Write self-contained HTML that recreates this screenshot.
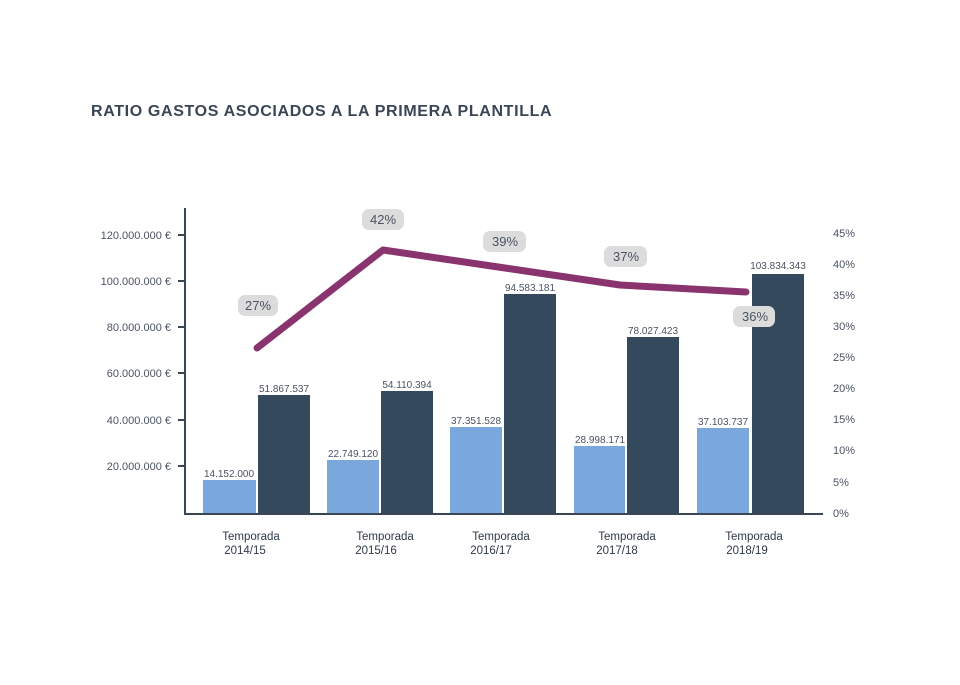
<!DOCTYPE html>
<html><head><meta charset="utf-8"><style>
body{margin:0;background:#fff;}
svg text{font-family:"Liberation Sans",sans-serif;}
</style></head><body>
<svg width="960" height="680" viewBox="0 0 960 680" xmlns="http://www.w3.org/2000/svg">
<text x="91" y="116" font-size="16" font-weight="bold" fill="#3a4656" letter-spacing="0.65">RATIO GASTOS ASOCIADOS A LA PRIMERA PLANTILLA</text>
<g font-size="11" fill="#4a5362" text-anchor="end">
<text x="171" y="239">120.000.000 €</text>
<text x="171" y="285">100.000.000 €</text>
<text x="171" y="331">80.000.000 €</text>
<text x="171" y="377">60.000.000 €</text>
<text x="171" y="424">40.000.000 €</text>
<text x="171" y="470">20.000.000 €</text>
</g>
<g stroke="#3a4656" stroke-width="2">
<line x1="178" y1="235" x2="185" y2="235"/><line x1="178" y1="281" x2="185" y2="281"/>
<line x1="178" y1="327" x2="185" y2="327"/><line x1="178" y1="373" x2="185" y2="373"/>
<line x1="178" y1="420" x2="185" y2="420"/><line x1="178" y1="466" x2="185" y2="466"/>
</g>
<g font-size="11" fill="#4a5362">
<text x="833" y="237">45%</text><text x="833" y="268">40%</text><text x="833" y="299">35%</text>
<text x="833" y="330">30%</text><text x="833" y="361">25%</text><text x="833" y="392">20%</text>
<text x="833" y="423">15%</text><text x="833" y="454">10%</text><text x="833" y="486">5%</text>
<text x="833" y="517">0%</text>
</g>
<g fill="#7aa7dc">
<rect x="203" y="480" width="53" height="33"/>
<rect x="327" y="460" width="52" height="53"/>
<rect x="450" y="427" width="52" height="86"/>
<rect x="574" y="446" width="51" height="67"/>
<rect x="697" y="428" width="52" height="85"/>
</g>
<g fill="#34495c">
<rect x="258" y="395" width="52" height="118"/>
<rect x="381" y="391" width="52" height="122"/>
<rect x="504" y="294" width="52" height="219"/>
<rect x="627" y="337" width="52" height="176"/>
<rect x="752" y="274" width="52" height="239"/>
</g>
<line x1="185" y1="208" x2="185" y2="514" stroke="#3a4656" stroke-width="2"/>
<line x1="184" y1="514" x2="823" y2="514" stroke="#3a4656" stroke-width="2"/>
<g font-size="10" fill="#4a5362" text-anchor="middle">
<text x="229" y="477">14.152.000</text><text x="284" y="392">51.867.537</text>
<text x="353" y="457">22.749.120</text><text x="407" y="388">54.110.394</text>
<text x="476" y="424">37.351.528</text><text x="530" y="291">94.583.181</text>
<text x="600" y="443">28.998.171</text><text x="653" y="334">78.027.423</text>
<text x="723" y="425">37.103.737</text><text x="778" y="269">103.834.343</text>
</g>
<path d="M257 348 L383 250 L505 268 Q560 276 620 285 L746 292" fill="none" stroke="#8a346f" stroke-width="7" stroke-linecap="round" stroke-linejoin="round"/>
<g fill="#dcdcdc">
<rect x="238" y="295" width="40" height="21" rx="7"/>
<rect x="362" y="209" width="42" height="21" rx="7"/>
<rect x="483" y="231" width="43" height="21" rx="7"/>
<rect x="604" y="246" width="43" height="21" rx="7"/>
<rect x="733" y="306" width="42" height="21" rx="7"/>
</g>
<g font-size="13" fill="#4a5362" text-anchor="middle">
<text x="258" y="310">27%</text><text x="383" y="224">42%</text>
<text x="505" y="246">39%</text><text x="626" y="261">37%</text>
<text x="755" y="321">36%</text>
</g>
<g font-size="11.5" fill="#2f3a48" text-anchor="middle">
<text x="251" y="540">Temporada</text><text x="245" y="554">2014/15</text>
<text x="385" y="540">Temporada</text><text x="376" y="554">2015/16</text>
<text x="501" y="540">Temporada</text><text x="491" y="554">2016/17</text>
<text x="627" y="540">Temporada</text><text x="617" y="554">2017/18</text>
<text x="754" y="540">Temporada</text><text x="747" y="554">2018/19</text>
</g>
</svg>
</body></html>
